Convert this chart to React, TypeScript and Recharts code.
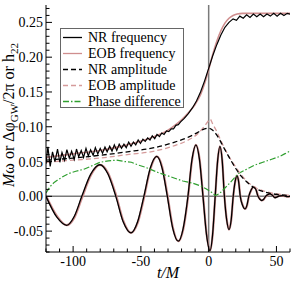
import React from "react";
import { LineChart, Line, XAxis, YAxis, ReferenceLine, Legend } from "recharts";

// NR (numerical relativity) gravitational-wave frequency, noisy early on
const NR_FREQ_T = [
  -120, -118.6, -116.9, -115.2, -113.4, -111.5, -109.8, -108.2, -106.3, -104.6,
  -102.8, -101.1, -99.2, -97.5, -95.9, -94, -92.3, -90.5, -88.8, -87.1,
  -85.2, -83.6, -81.8, -80, -78.3, -76.5, -74.9, -73, -71.3, -69.6,
  -67.8, -66, -64.3, -62.5, -60.8, -59, -57.3, -55.5, -53.8, -52,
  -50.3, -48.5, -46.8, -45, -43.3, -41.6, -39.8, -38.1, -36.3, -34.6,
  -32.9, -31.1, -29.4, -27.6, -25.9, -24.2, -22.4, -20.7, -18, -15,
  -12, -9, -6, -3, 0, 3, 6, 9, 12, 15,
  18, 20.5, 23, 25.5, 28, 30.5, 33, 35.5, 38, 40.5,
  43, 45.5, 48, 50.5, 53, 55.5, 58, 60,
];
const NR_FREQ = [
  0.047, 0.071, 0.043, 0.064, 0.050, 0.068, 0.049, 0.063, 0.052, 0.067,
  0.055, 0.065, 0.053, 0.068, 0.057, 0.066, 0.056, 0.069, 0.058, 0.067,
  0.059, 0.070, 0.061, 0.069, 0.062, 0.071, 0.064, 0.072, 0.065, 0.074,
  0.066, 0.075, 0.069, 0.075, 0.070, 0.078, 0.072, 0.078, 0.074, 0.081,
  0.076, 0.082, 0.079, 0.084, 0.081, 0.087, 0.083, 0.089, 0.086, 0.091,
  0.089, 0.094, 0.093, 0.097, 0.097, 0.102, 0.103, 0.107, 0.112, 0.119,
  0.127, 0.137, 0.150, 0.166, 0.184, 0.202, 0.218, 0.232, 0.243, 0.250,
  0.255, 0.253, 0.259, 0.256, 0.261, 0.257, 0.262, 0.258, 0.262, 0.258,
  0.262, 0.259, 0.263, 0.259, 0.263, 0.260, 0.263, 0.262,
];

// EOB frequency
const EOB_FREQ_T = [-120, -100, -80, -60, -40, -30, -25, -20, -15, -10, -6, -3, 0, 3, 6, 9, 12, 15, 18, 21, 25, 30, 60];
const EOB_FREQ = [
  0.056, 0.061, 0.066, 0.074, 0.086, 0.095, 0.102, 0.110, 0.120, 0.132, 0.146, 0.162,
  0.182, 0.204, 0.223, 0.238, 0.249, 0.256, 0.260, 0.262, 0.263, 0.263, 0.263,
];

// amplitudes |h22|
const NR_AMP_T = [-120, -100, -80, -60, -40, -25, -15, -8, -3, 0, 3, 6, 9, 12, 16, 20, 24, 28, 34, 40, 46, 52, 60];
const NR_AMP = [
  0.052, 0.055, 0.059, 0.064, 0.070, 0.078, 0.085, 0.092, 0.097, 0.098, 0.095, 0.088,
  0.078, 0.067, 0.053, 0.040, 0.029, 0.021, 0.012, 0.007, 0.004, 0.0025, 0.001,
];
const EOB_AMP_T = [-120, -100, -80, -60, -40, -25, -15, -8, -3, 0, 1, 3, 6, 9, 12, 16, 20, 24, 28, 34, 40, 46, 52, 60];
const EOB_AMP = [
  0.049, 0.052, 0.055, 0.060, 0.065, 0.073, 0.081, 0.090, 0.101, 0.109, 0.111, 0.104,
  0.093, 0.080, 0.068, 0.054, 0.042, 0.031, 0.022, 0.013, 0.008, 0.005, 0.003, 0.0015,
];

// phase difference / 2pi
const PHASE_T = [
  -120, -117, -114, -111, -107, -103, -98, -92, -86, -80,
  -74, -68, -62, -57, -52, -47, -42, -37, -31, -25,
  -19, -12, -6, -2, 2, 5, 8, 12, 16, 22,
  28, 34, 40, 46, 52, 56, 60,
];
const PHASE = [
  0.005, 0.014, 0.020, 0.024, 0.029, 0.033, 0.036, 0.039, 0.044, 0.049,
  0.051, 0.052, 0.050, 0.049, 0.045, 0.042, 0.038, 0.034, 0.030, 0.026,
  0.022, 0.019, 0.015, 0.011, 0.006, 0.001, 0.004, 0.012, 0.020, 0.033,
  0.039, 0.045, 0.049, 0.053, 0.057, 0.061, 0.065,
];

// Re(h22) waveforms
const WAVE_T = [
  -120, -112, -104.7, -99.2, -93.6, -87, -80.2, -74.3, -68.5, -63,
  -57.3, -52.5, -47.8, -43, -38.3, -34.4, -30.5, -26.5, -22.4, -18.8,
  -15.3, -12.3, -9.4, -6.8, -4.2, -1.6, 1, 2.9, 4.8, 6.6,
  8.3, 10, 11.6, 13.3, 15, 16.6, 18.1, 19.5, 20.9, 22.1,
  23.3, 25, 26.8, 28.2, 29.6, 31.4, 33.2, 34.9, 36.4, 37.8,
  39.1, 40.6, 42, 43.6, 45.2, 47, 48.9, 52, 55, 58,
  60,
];
const NR_WAVE = [
  0, -0.030, -0.0416, -0.029, 0, 0.032, 0.0454, 0.032, 0, -0.037,
  -0.0525, -0.037, 0, 0.041, 0.0573, 0.041, 0, -0.046, -0.0645, -0.046,
  0, 0.053, 0.0741, 0.053, 0, -0.055, -0.078, -0.055, 0, 0.051,
  0.0717, 0.051, 0, -0.034, -0.0477, -0.034, 0, 0.021, 0.0297, 0.021,
  0, -0.013, -0.018, -0.013, 0, 0.0095, 0.0135, 0.0095, 0, -0.0042,
  -0.006, -0.0042, 0, 0.0024, 0.0034, 0.0015, -0.002, 0.0005, 0.001, -0.0005,
  0,
];
const EOB_WAVE = [
  0.001, -0.028, -0.0415, -0.031, -0.003, 0.030, 0.0452, 0.034, 0.003, -0.035,
  -0.0525, -0.039, -0.003, 0.039, 0.0573, 0.043, 0.003, -0.044, -0.0645, -0.048,
  -0.003, 0.051, 0.0741, 0.055, 0.002, -0.053, -0.078, -0.056, -0.002, 0.050,
  0.0717, 0.052, 0.002, -0.033, -0.0477, -0.035, -0.001, 0.020, 0.0297, 0.022,
  0.001, -0.012, -0.018, -0.014, -0.001, 0.009, 0.0135, 0.010, 0.001, -0.004,
  -0.006, -0.0045, -0.0005, 0.002, 0.0034, 0.002, -0.0015, 0.0005, 0.0008, -0.0003,
  0,
];

const X_TICKS = [-120, -110, -100, -90, -80, -70, -60, -50, -40, -30, -20, -10, 0, 10, 20, 30, 40, 50, 60];
const Y_TICKS = [
  -0.08, -0.07, -0.06, -0.05, -0.04, -0.03, -0.02, -0.01, 0, 0.01, 0.02, 0.03,
  0.04, 0.05, 0.06, 0.07, 0.08, 0.09, 0.1, 0.11, 0.12, 0.13, 0.14, 0.15,
  0.16, 0.17, 0.18, 0.19, 0.2, 0.21, 0.22, 0.23, 0.24, 0.25, 0.26, 0.27,
];

const LEGEND_ORDER = ["NR frequency", "EOB frequency", "NR amplitude", "EOB amplitude", "Phase difference"];
const LEGEND_DASH: Record<string, string | undefined> = {
  "NR amplitude": "5 3",
  "EOB amplitude": "5 3",
  "Phase difference": "6 2 1.5 2",
};

const SERIF = {
  fontFamily: '"Liberation Serif", Tinos, "Times New Roman", Times, "Noto Serif", "DejaVu Serif", serif',
};
const PINK = "#cf8e8e";
const PINK_DASH = "#d59b9b";
const GREEN = "#2f9f2f";

const pts = (ts: number[], vs: number[]) => ts.map((t, i) => ({ t, v: vs[i] }));

const isMajorX = (v: number) => v % 50 === 0;
const isMajorY = (v: number) => Math.round(v * 100) % 5 === 0;

function BottomTick({ x, y, payload }: any) {
  const major = isMajorX(payload.value);
  return (
    <g>
      <line x1={x} x2={x} y1={y} y2={y - (major ? 6 : 3.5)} stroke="#000" />
      {major && (
        <text x={x} y={y + 14} textAnchor="middle" style={SERIF} fontSize={14} fill="#000">
          {payload.value}
        </text>
      )}
    </g>
  );
}

function TopTick({ x, y, payload }: any) {
  const major = isMajorX(payload.value);
  return <line x1={x} x2={x} y1={y} y2={y + (major ? 6 : 3.5)} stroke="#000" />;
}

function LeftTick({ x, y, payload }: any) {
  const v = payload.value;
  const major = isMajorY(v);
  return (
    <g>
      <line x1={x} x2={x + (major ? 6 : 3.5)} y1={y} y2={y} stroke="#000" />
      {major && (
        <text x={x - 3} y={y} dy="0.36em" textAnchor="end" style={SERIF} fontSize={14} fill="#000">
          {v.toFixed(2)}
        </text>
      )}
    </g>
  );
}

function RightTick({ x, y, payload }: any) {
  const major = isMajorY(payload.value);
  return <line x1={x} x2={x - (major ? 6 : 3.5)} y1={y} y2={y} stroke="#000" />;
}

function YTitle({ viewBox }: any) {
  const x = (viewBox?.x ?? 0) + 13.5;
  const y = (viewBox?.y ?? 5) + 110;
  return (
    <text transform={`rotate(-90, ${x}, ${y})`} x={x} y={y} textAnchor="middle" style={SERIF} fontSize={16} fill="#000">
      <tspan fontStyle="italic">M</tspan>ω or Δφ
      <tspan dy={4} fontSize={11}>GW</tspan>
      <tspan dy={-4}>/2π or h</tspan>
      <tspan dy={4} fontSize={11}>22</tspan>
    </text>
  );
}

function XTitle({ viewBox }: any) {
  const x = (viewBox?.x ?? 46) + (viewBox?.width ?? 244) / 2;
  const y = (viewBox?.y ?? 252) + 26;
  return (
    <text x={x} y={y} textAnchor="middle" style={SERIF} fontSize={16} fontStyle="italic" fill="#000">
      t/M
    </text>
  );
}

function LegendBox({ payload = [] }: any) {
  const rows = LEGEND_ORDER.map((n) => payload.find((p: any) => p.value === n)).filter(Boolean);
  return (
    <svg width={126} height={80} style={{ display: "block", overflow: "visible" }}>
      <rect x={0.5} y={0.5} width={123} height={79} fill="#fff" stroke="#666" />
      {rows.map((p: any, i: number) => {
        const cy = 9.5 + i * 16;
        return (
          <g key={p.value}>
            <line x1={3} x2={22} y1={cy} y2={cy} stroke={p.color} strokeWidth={1.3} strokeDasharray={LEGEND_DASH[p.value]} />
            <text x={28} y={cy} dy="0.35em" style={SERIF} fontSize={14} fill="#000">
              {p.value}
            </text>
          </g>
        );
      })}
    </svg>
  );
}

export default function App() {
  return (
    <div style={{ position: "absolute", left: 0, top: 0, background: "#fff" }}>
      <LineChart width={291} height={281} margin={{ top: 5, right: 1, bottom: 0, left: 0 }}>
        <XAxis
          type="number"
          dataKey="t"
          domain={[-120, 60]}
          ticks={X_TICKS}
          interval={0}
          height={29}
          tickSize={0}
          tickMargin={0}
          tickLine={false}
          axisLine={{ stroke: "#000" }}
          tick={<BottomTick />}
          label={<XTitle />}
          allowDataOverflow
        />
        <XAxis
          xAxisId="top"
          orientation="top"
          type="number"
          dataKey="t"
          domain={[-120, 60]}
          ticks={X_TICKS}
          interval={0}
          height={0}
          tickSize={0}
          tickMargin={0}
          tickLine={false}
          axisLine={{ stroke: "#000" }}
          tick={<TopTick />}
          allowDataOverflow
        />
        <YAxis
          type="number"
          domain={[-0.08, 0.275]}
          ticks={Y_TICKS}
          interval={0}
          width={46}
          tickSize={0}
          tickMargin={0}
          tickLine={false}
          axisLine={{ stroke: "#000" }}
          tick={<LeftTick />}
          label={<YTitle />}
          allowDataOverflow
        />
        <YAxis
          yAxisId="right"
          orientation="right"
          type="number"
          domain={[-0.08, 0.275]}
          ticks={Y_TICKS}
          interval={0}
          width={0}
          tickSize={0}
          tickMargin={0}
          tickLine={false}
          axisLine={{ stroke: "#000" }}
          tick={<RightTick />}
          allowDataOverflow
        />
        <ReferenceLine x={0} stroke="#7a7a7a" strokeWidth={1.5} />
        <ReferenceLine y={0} stroke="#7a7a7a" strokeWidth={1.5} />
        <Line data={pts(WAVE_T, EOB_WAVE)} dataKey="v" type="monotone" stroke={PINK} strokeWidth={2.2} dot={false} legendType="none" isAnimationActive={false} />
        <Line data={pts(WAVE_T, NR_WAVE)} dataKey="v" type="monotone" stroke="#000" strokeWidth={1.3} dot={false} legendType="none" isAnimationActive={false} />
        <Line data={pts(PHASE_T, PHASE)} dataKey="v" name="Phase difference" type="linear" stroke={GREEN} strokeWidth={1.2} strokeDasharray="6 2 1.5 2" dot={false} isAnimationActive={false} />
        <Line data={pts(EOB_AMP_T, EOB_AMP)} dataKey="v" name="EOB amplitude" type="monotone" stroke={PINK_DASH} strokeWidth={1.3} strokeDasharray="5 3" dot={false} isAnimationActive={false} />
        <Line data={pts(NR_AMP_T, NR_AMP)} dataKey="v" name="NR amplitude" type="monotone" stroke="#000" strokeWidth={1.3} strokeDasharray="5 3" dot={false} isAnimationActive={false} />
        <Line data={pts(EOB_FREQ_T, EOB_FREQ)} dataKey="v" name="EOB frequency" type="monotone" stroke={PINK} strokeWidth={1.6} dot={false} isAnimationActive={false} />
        <Line data={pts(NR_FREQ_T, NR_FREQ)} dataKey="v" name="NR frequency" type="linear" stroke="#000" strokeWidth={1.2} dot={false} isAnimationActive={false} />
        <Legend
          layout="vertical"
          align="center"
          verticalAlign="middle"
          content={<LegendBox />}
          wrapperStyle={{ left: 60, top: 28, width: 126, height: 80 }}
        />
      </LineChart>
    </div>
  );
}
